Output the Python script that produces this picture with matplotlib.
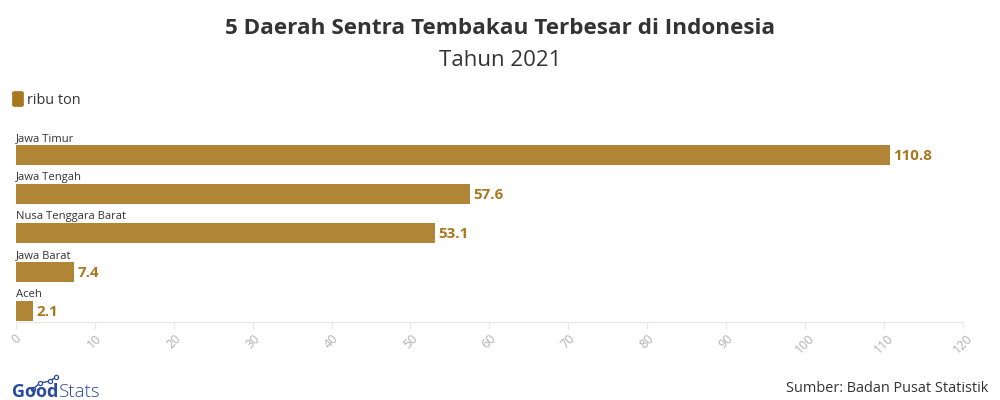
import matplotlib
matplotlib.use('Agg')
import matplotlib.pyplot as plt
from matplotlib.patches import FancyBboxPatch

plt.rcParams['font.family'] = ['Open Sans', 'DejaVu Sans']

# data
daerah = ['Jawa Timur', 'Jawa Tengah', 'Nusa Tenggara Barat', 'Jawa Barat', 'Aceh']
produksi = [110.8, 57.6, 53.1, 7.4, 2.1]
ticks = [0, 10, 20, 30, 40, 50, 60, 70, 80, 90, 100, 110, 120]

bar_color = '#b08536'
label_color = '#a87820'
text_color = '#333333'
blue = '#2a4a9c'

W, H = 1000, 400
fig = plt.figure(figsize=(10, 4), dpi=100)

# axes placed by pixels: x 16..962.5, y 127.5..322
ax = fig.add_axes([16 / W, 1 - 322 / H, (962.5 - 16) / W, (322 - 127.5) / H])
ypos = list(range(len(daerah)))
ax.barh(ypos, produksi, height=0.514, color=bar_color)
ax.set_xlim(0, 120)
ax.set_ylim(4.293, -0.707)

for y, nama, v in zip(ypos, daerah, produksi):
    ax.text(0, y - 0.42, nama, fontsize=8.1, color=text_color, va='center', ha='left')
    ax.annotate(f'{v}', (v, y), xytext=(2.5, -1), textcoords='offset points', fontsize=10.9,
                fontweight='bold', color=label_color, va='center', ha='left')

for s in ['top', 'right', 'left']:
    ax.spines[s].set_visible(False)
ax.spines['bottom'].set_color('#e8e8e8')
ax.spines['bottom'].set_linewidth(1)
ax.set_yticks([])
ax.set_xticks(ticks)
ax.tick_params(axis='x', length=5, color='#e8e8e8', labelcolor='#b0b0b0', labelsize=9, pad=2)
for lab in ax.get_xticklabels():
    lab.set_rotation(45)
    lab.set_ha('center')

# title
fig.text(500 / W, 1 - 29 / H, '5 Daerah Sentra Tembakau Terbesar di Indonesia', fontsize=16.2,
         fontweight='bold', color=text_color, ha='center', va='center')
fig.text(500 / W, 1 - 60 / H, 'Tahun 2021', fontsize=16, color=text_color, ha='center', va='center')

# legend
fig.patches.append(FancyBboxPatch((12.5 / W, 1 - 106.5 / H), 11 / W, 15 / H,
                                  boxstyle='round,pad=0,rounding_size=0.003',
                                  transform=fig.transFigure, fc=label_color, ec=label_color, lw=0.5))
fig.text(27 / W, 1 - 101 / H, 'ribu ton', fontsize=10.4, color=text_color, ha='left', va='center')

# source
fig.text(988 / W, 1 - 389 / H, 'Sumber: Badan Pusat Statistik', fontsize=10.45, color=text_color,
         ha='right', va='center')

# logo
fig.text(12 / W, 1 - 392 / H, 'Good', fontsize=13, fontweight='bold', color=blue, ha='left', va='center')
fig.text(59 / W, 1 - 392 / H, 'Stats', fontsize=13.5, fontweight='light', color=blue, ha='left', va='center')
lx = [33, 40, 50, 56]
ly = [389, 383, 381, 377]
fig.add_artist(plt.Line2D([x / W for x in lx], [1 - y / H for y in ly], transform=fig.transFigure,
                          color=blue, lw=1, marker='o', ms=3, mfc='white', mec=blue, mew=0.9))

fig.savefig('out.png', dpi=100)
